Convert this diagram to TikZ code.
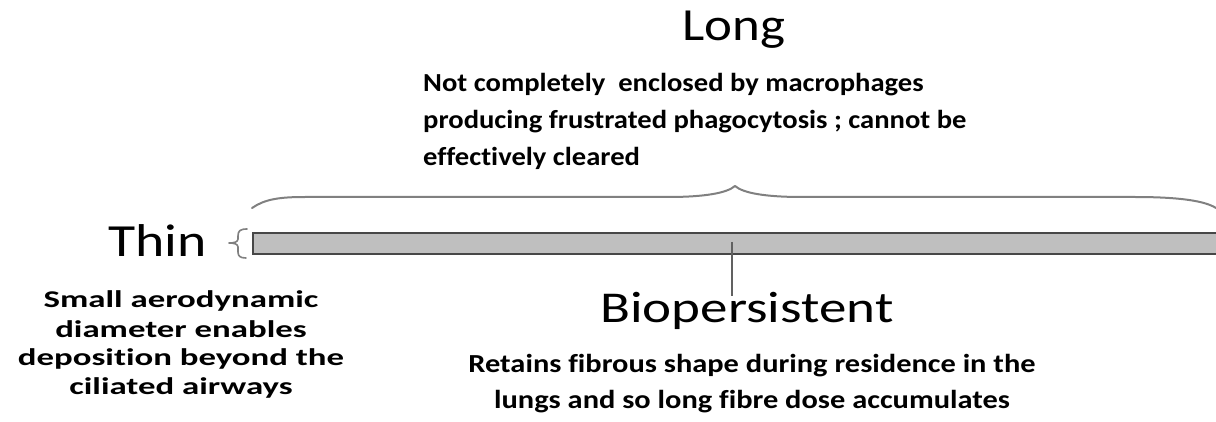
\documentclass[tikz,border=0pt]{standalone}
\usepackage{fontspec}
\usepackage{graphicx}
\setmainfont{Carlito}[Ligatures=CommonOff]
\newcommand\linesat[2]{\begin{tabular}[t]{@{}#1@{}}#2\end{tabular}}
\newcommand\widen[2]{\scalebox{#1}[1]{#2}}
\begin{document}
\begin{tikzpicture}[x=1pt,y=-1pt,
  title/.style={font=\fontsize{46}{55}\selectfont, inner sep=0pt, anchor=base},
  desc/.style={font=\bfseries\fontsize{26}{37}\selectfont, inner sep=0pt},
  bracestyle/.style={draw=black!50, line width=2pt, line cap=round, line join=round},
  fibrestyle/.style={draw=black!72, fill=black!25, line width=1.6pt, minimum width=975pt, minimum height=21pt, inner sep=0pt, anchor=north west},
  tickstyle/.style={draw=black!62, line width=2.4pt}]
\useasboundingbox (0,0) rectangle (1216,422);

% titles
\node[title] (long) at (734,41) {\widen{1.15}{Long}};
\node[title] (thin) at (157.5,257) {\widen{1.21}{Thin}};
\node[title, font=\fontsize{44}{53}\selectfont] (bio) at (747,323) {\widen{1.25}{Biopersistent}};

% descriptions
\node[desc, anchor=base west] (longd) at (423,92)
  {\widen{1.1}{\linesat{l}{Not completely\ \ enclosed by macrophages\\producing frustrated phagocytosis ; cannot be\\effectively cleared}}};
\node[desc, anchor=base, font=\bfseries\fontsize{26}{36}\selectfont] (biod) at (752,372)
  {\widen{1.17}{\linesat{c}{Retains fibrous shape during residence in the\\lungs and so long fibre dose accumulates}}};
\node[desc, anchor=base, font=\bfseries\fontsize{24}{29}\selectfont] (thind) at (181,308)
  {\widen{1.45}{\linesat{c}{Small aerodynamic\\diameter enables\\deposition beyond the\\ciliated airways}}};

% fibre
\node[fibrestyle] (fibre) at (252,232) {};

% long brace
\coordinate (bl) at (252,208);
\coordinate (bm) at (735,186);
\coordinate (br) at (1216,208);
\draw[bracestyle] (bl) .. controls (265,199) and (280,197) .. (305,197) -- (668,197)
  .. controls (705,197) and (727,193) .. (bm)
  .. controls (743,193) and (765,197) .. (802,197) -- (1135,197)
  .. controls (1180,197) and (1205,201) .. (br);

% thin brace
\coordinate (tt) at (247,229);
\coordinate (tm) at (229,243);
\coordinate (tb) at (246,258);
\draw[bracestyle, line width=1.6pt] (tt) .. controls (240,229) and (238,231) .. (238,236) -- (238,239)
  .. controls (238,242) and (234,243) .. (tm)
  .. controls (234,243) and (238,244) .. (238,247) -- (238,252)
  .. controls (238,256) and (240,258) .. (tb);

% tick to biopersistent
\coordinate (tick) at (732,242);
\coordinate (tickend) at (732,296);
\draw[tickstyle] (tick) -- (tickend);
\end{tikzpicture}
\end{document}
